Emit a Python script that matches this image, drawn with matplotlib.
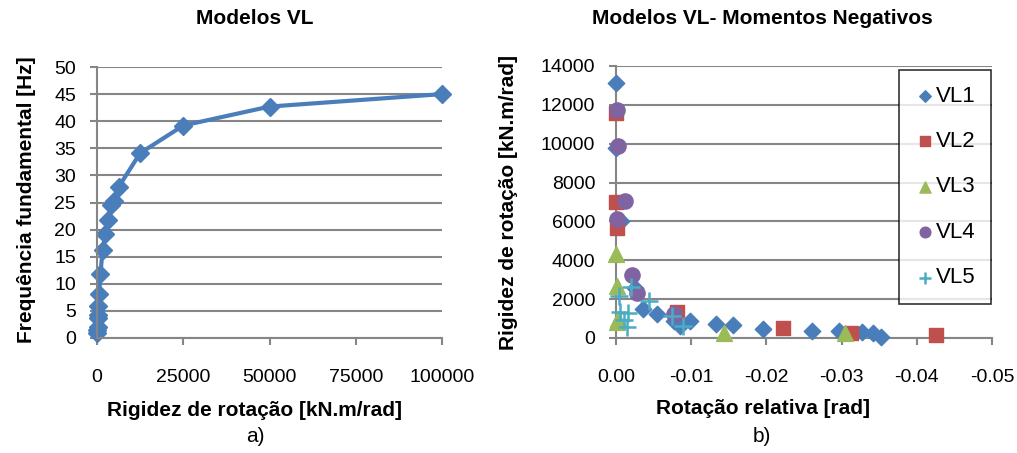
import matplotlib
matplotlib.use("Agg")
import matplotlib.pyplot as plt

plt.rcParams['font.family'] = ['Liberation Sans', 'DejaVu Sans']

# ---- Left chart data ----
stiffness = [50, 100, 150, 200, 250, 400, 600, 1000, 1600, 2400, 3200, 4000, 5000, 6300, 12500, 25000, 50000, 100000]
frequency = [1.0, 1.5, 2.0, 3.7, 4.3, 5.9, 8.2, 11.8, 16.2, 19.2, 21.8, 24.5, 25.2, 27.9, 34.1, 39.2, 42.7, 45.0]
left_xticks = [0, 25000, 50000, 75000, 100000]
left_yticks = [0, 5, 10, 15, 20, 25, 30, 35, 40, 45, 50]

# ---- Right chart data ----
vl1_rot = [0.0, -0.00005, -0.0006, -0.0025, -0.0036, -0.0054, -0.0077, -0.0085, -0.0099, -0.0133, -0.0155, -0.0195, -0.026, -0.0296, -0.0327, -0.0342, -0.0353]
vl1_k = [13150, 9800, 6000, 2550, 1490, 1240, 850, 640, 860, 740, 650, 460, 380, 360, 310, 275, 70]
vl2_rot = [0.0, 0.0, -0.0001, -0.0081, -0.0222, -0.0312, -0.0425]
vl2_k = [11600, 7000, 5650, 1330, 500, 240, 180]
vl3_rot = [0.0, -0.0001, -0.0003, -0.0001, -0.0143, -0.0304]
vl3_k = [4300, 2700, 1000, 800, 270, 240]
vl4_rot = [-0.0001, -0.0002, -0.0012, -0.0001, -0.0021, -0.0028, -0.0077]
vl4_k = [11750, 9900, 7050, 6150, 3250, 2300, 1250]
vl5_rot = [-0.002, -0.0004, -0.0044, -0.0005, -0.0016, -0.0010, -0.0014, -0.0074, -0.0089]
vl5_k = [2640, 2160, 1880, 1340, 1270, 930, 580, 1120, 640]
right_xticks = [0.00, -0.01, -0.02, -0.03, -0.04, -0.05]
right_xticklabels = ["0.00", "-0.01", "-0.02", "-0.03", "-0.04", "-0.05"]
right_yticks = [0, 2000, 4000, 6000, 8000, 10000, 12000, 14000]

W, H = 1017, 453
fig = plt.figure(figsize=(W / 100, H / 100), dpi=100)

grid_c = '#868686'


def style(ax):
    for s in ['top', 'right']:
        ax.spines[s].set_visible(False)
    for s in ['left', 'bottom']:
        ax.spines[s].set_color(grid_c)
        ax.spines[s].set_linewidth(1.5)
    ax.yaxis.grid(True, color=grid_c, linewidth=1.5)
    ax.set_axisbelow(True)
    ax.tick_params(axis='both', colors=grid_c, labelcolor='black', labelsize=14,
                   length=5, width=1.5, direction='out')
    ax.tick_params(axis='x', pad=17)
    ax.tick_params(axis='y', pad=10)


def box(l, t, r, b):
    return [l / W, 1 - b / H, (r - l) / W, (b - t) / H]


ax1 = fig.add_axes(box(97, 67, 442, 338))
style(ax1)
ax1.plot(stiffness, frequency, color='#4A7EBB', linewidth=3, marker='D',
         markersize=9, markerfacecolor='#4A7EBB', markeredgecolor='#4A7EBB', clip_on=False)
ax1.set_xlim(0, 100000)
ax1.set_ylim(0, 50)
ax1.set_xticks(left_xticks)
ax1.set_yticks(left_yticks)

ax2 = fig.add_axes(box(616, 66, 992, 338))
style(ax2)
ax2.scatter(vl1_rot, vl1_k, marker='D', s=70, color='#4A7EBB', label='VL1', clip_on=False, zorder=3)
ax2.scatter(vl2_rot, vl2_k, marker='s', s=110, color='#C0504D', label='VL2', clip_on=False, zorder=3)
ax2.scatter(vl3_rot, vl3_k, marker='^', s=130, color='#9BBB59', label='VL3', clip_on=False, zorder=3)
ax2.scatter(vl4_rot, vl4_k, marker='o', s=120, color='#8064A2', label='VL4', clip_on=False, zorder=3)
ax2.scatter(vl5_rot, vl5_k, marker='+', s=150, color='#4BACC6', linewidths=1.8, label='VL5', clip_on=False, zorder=3)
ax2.set_xlim(0, -0.05)
ax2.set_ylim(0, 14000)
ax2.set_xticks(right_xticks)
ax2.set_xticklabels(right_xticklabels)
ax2.set_yticks(right_yticks)

leg = ax2.legend(loc='upper right', bbox_to_anchor=((991 - 616) / 376, (338 - 70) / 272),
                 fontsize=16, frameon=True, fancybox=False, edgecolor='black',
                 labelspacing=1.1, handletextpad=0.05, handlelength=0.9,
                 borderpad=0.7, borderaxespad=0, markerscale=0.7, scatterpoints=1)
leg.get_frame().set_linewidth(1.2)

tkw = dict(ha='center', va='center', fontweight='bold', fontsize=15)
fig.text(255 / W, 1 - 18 / H, 'Modelos VL', **tkw)
fig.text(762 / W, 1 - 18 / H, 'Modelos VL- Momentos Negativos', **tkw)
fig.text(255 / W, 1 - 410 / H, 'Rigidez de rotação [kN.m/rad]', **tkw)
fig.text(763 / W, 1 - 408 / H, 'Rotação relativa [rad]', **tkw)
fig.text(27 / W, 1 - 200 / H, 'Frequência fundamental [Hz]', rotation=90, **tkw)
fig.text(508 / W, 1 - 202 / H, 'Rigidez de rotação [kN.m/rad]', rotation=90, **tkw)
fig.text(255 / W, 1 - 437 / H, 'a)', ha='center', va='center', fontsize=15)
fig.text(762 / W, 1 - 437 / H, 'b)', ha='center', va='center', fontsize=15)

fig.savefig('out.png', dpi=100)
